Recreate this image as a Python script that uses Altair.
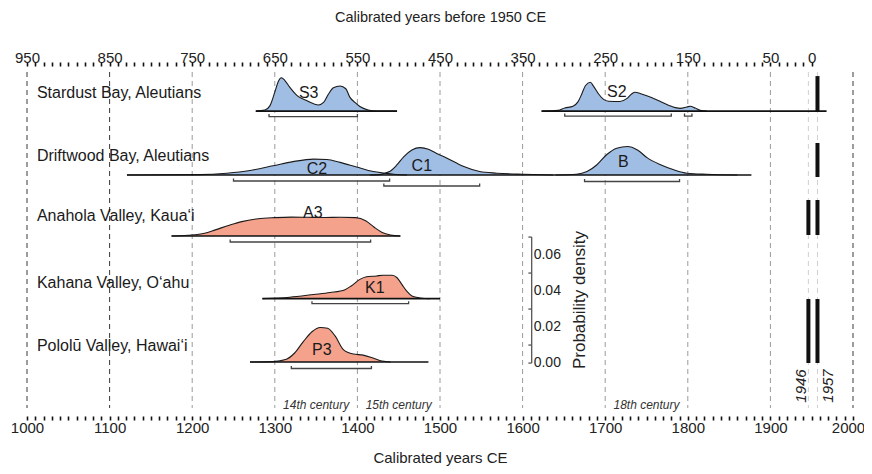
import altair as alt
import pandas as pd

FONT = "Liberation Sans, Arial, Helvetica, sans-serif"
PX = 1.0 / 1800.0          # density units per vertical screen pixel
Y_MAX = 350 * PX

# ---------------- data ----------------
site_names = ["Stardust Bay, Aleutians", "Driftwood Bay, Aleutians",
              "Anahola Valley, Kaua\u2018i", "Kahana Valley, O\u2018ahu",
              "Polol\u016b Valley, Hawai\u2018i"]
site_base = [0.1694, 0.1339, 0.1000, 0.0652, 0.0300]
site_label_year = 1012
site_label_rise_px = [18, 19, 20, 16, 16]

# baseline segments of each row
seg_site = [0, 0, 1, 2, 3, 4]
seg_start = [1277, 1623, 1121, 1175, 1285, 1270]
seg_end = [1448, 1968, 1877, 1452, 1500, 1486]

# probability density curves
S3_years = [1277, 1288, 1294, 1300, 1304, 1308, 1312, 1318, 1327, 1339, 1353,
            1359, 1365, 1371, 1379, 1386, 1391, 1397, 1403, 1413, 1423, 1448]
S3_dens = [0, 0.0006, 0.0029, 0.0105, 0.0162, 0.0185, 0.0171, 0.0133, 0.0086, 0.0057, 0.0034,
           0.0048, 0.0095, 0.0130, 0.0139, 0.0124, 0.0076, 0.0048, 0.0025, 0.0006, 0, 0]

S2_years = [1623, 1643, 1651, 1661, 1667, 1672, 1676, 1682, 1686, 1692, 1698, 1704, 1718, 1726,
            1732, 1736, 1744, 1756, 1768, 1778, 1785, 1791, 1799, 1803, 1809, 1815, 1823]
S2_dens = [0, 0.0004, 0.0017, 0.0027, 0.0051, 0.0099, 0.0141, 0.0160, 0.0137, 0.0095, 0.0065,
           0.0055, 0.0053, 0.0069, 0.0095, 0.0105, 0.0095, 0.0076, 0.0051, 0.0030, 0.0019,
           0.0015, 0.0023, 0.0027, 0.0017, 0.0004, 0]

C2_years = [1121, 1209, 1242, 1270, 1298, 1322, 1347, 1363, 1379, 1399, 1419, 1433, 1444, 1460]
C2_dens = [0, 0.0002, 0.0010, 0.0025, 0.0051, 0.0074, 0.0088, 0.0086, 0.0070, 0.0044,
           0.0019, 0.0010, 0.0004, 0]

C1_years = [1415, 1427, 1433, 1439, 1448, 1456, 1466, 1476, 1486, 1496, 1508, 1528, 1548,
            1569, 1601, 1637]
C1_dens = [0, 0.0002, 0.0010, 0.0019, 0.0057, 0.0101, 0.0139, 0.0152, 0.0143, 0.0120,
           0.0095, 0.0048, 0.0019, 0.0010, 0.0004, 0]

B_years = [1640, 1665, 1678, 1690, 1702, 1714, 1727, 1739, 1751, 1767, 1783, 1799, 1823, 1860]
B_dens = [0, 0.0004, 0.0019, 0.0057, 0.0114, 0.0149, 0.0158, 0.0139, 0.0095, 0.0057,
          0.0029, 0.0010, 0.0004, 0]

A3_years = [1175, 1195, 1215, 1228, 1245, 1260, 1280, 1300, 1320, 1340, 1360, 1380, 1398,
            1410, 1420, 1430, 1440, 1452]
A3_dens = [0, 0.0004, 0.0015, 0.0034, 0.0060, 0.0080, 0.0096, 0.0102, 0.0105, 0.0104,
           0.0103, 0.0104, 0.0102, 0.0085, 0.0050, 0.0020, 0.0006, 0]

K1_years = [1285, 1318, 1347, 1367, 1385, 1393, 1403, 1411, 1423, 1431, 1442, 1448, 1454,
            1460, 1466, 1476, 1488]
K1_dens = [0, 0.0008, 0.0023, 0.0034, 0.0050, 0.0072, 0.0107, 0.0122, 0.0126, 0.0130,
           0.0130, 0.0116, 0.0078, 0.0040, 0.0015, 0.0004, 0]

P3_years = [1270, 1298, 1314, 1324, 1335, 1345, 1355, 1364, 1373, 1383, 1395, 1407, 1417,
            1427, 1440]
P3_dens = [0, 0.0002, 0.0015, 0.0050, 0.0116, 0.0168, 0.0192, 0.0187, 0.0145, 0.0069,
           0.0044, 0.0038, 0.0025, 0.0008, 0]

curve_names = ["S3", "S2", "C2", "C1", "B", "A3", "K1", "P3"]
curve_site = [0, 0, 1, 1, 1, 2, 3, 4]
curve_region = ["Aleutians", "Aleutians", "Aleutians", "Aleutians", "Aleutians",
                "Hawaii", "Hawaii", "Hawaii"]
curve_years = [S3_years, S2_years, C2_years, C1_years, B_years, A3_years, K1_years, P3_years]
curve_dens = [S3_dens, S2_dens, C2_dens, C1_dens, B_dens, A3_dens, K1_dens, P3_dens]
curve_label_year = [1341, 1714, 1351, 1478, 1722, 1346, 1421, 1357]
curve_label_rise_px = [18, 19, 6, 9, 13, 23, 11, 12]

region_fill = {"Aleutians": "#a0bde3", "Hawaii": "#f4a28c"}

# age-range brackets
br_site = [0, 0, 0, 1, 1, 1, 2, 3, 4]
br_start = [1293, 1651, 1796, 1250, 1432, 1675, 1246, 1345, 1320]
br_end = [1400, 1780, 1805, 1439, 1548, 1790, 1416, 1462, 1417]
br_drop_px = [5.5, 5, 5, 6, 11, 6.5, 6, 5, 6.5]

# historical tsunami bars (1946, 1957)
ev_site = [0, 1, 2, 2, 4, 4]
ev_year = [1957, 1957, 1946, 1957, 1946, 1957]
ev_low_px = [0, -2, 1, 1, -1, -1]
ev_high_px = [35, 32, 36, 36, 63, 63]
ev_label_text = ["1946", "1957"]
ev_label_year = [1937, 1970]

# reference grid lines
grid_years = [1000, 1100, 1200, 1300, 1400, 1500, 1600, 1700, 1800, 1900, 2000, 1946, 1957]
grid_kind = ["dark", "dark", "mid", "mid", "mid", "mid", "mid", "mid", "mid", "mid", "dark",
             "light", "light"]
grid_color = {"dark": "#3a3a3a", "mid": "#9a9a9a", "light": "#d0d0d0"}

century_text = ["14th century", "15th century", "18th century"]
century_year = [1350, 1450, 1750]

# probability density scale bar
scale_year = 1611
scale_base = 0.0294
scale_minor = [0.01, 0.03, 0.05, 0.07]
scale_major = [0.00, 0.02, 0.04, 0.06]

# ---------------- tables ----------------
rows = []
for n, s, r, ys_, ds in zip(curve_names, curve_site, curve_region, curve_years, curve_dens):
    for y, d in zip(ys_, ds):
        rows.append({"curve": n, "year": y, "top": site_base[s] + d, "base": site_base[s],
                     "fill": region_fill[r]})
curves_df = pd.DataFrame(rows)

seg_df = pd.DataFrame({"start": seg_start, "end": seg_end,
                       "y": [site_base[s] for s in seg_site]})

br_rows = []
for i, (s, a, b, dp) in enumerate(zip(br_site, br_start, br_end, br_drop_px)):
    yb = site_base[s] - dp * PX
    yt = yb + 2.5 * PX
    for k, (xx, yy) in enumerate([(a, yt), (a, yb), (b, yb), (b, yt)]):
        br_rows.append({"bid": i, "x": xx, "y": yy, "ord": k})
br_df = pd.DataFrame(br_rows)

ev_df = pd.DataFrame({"year": ev_year,
                      "low": [site_base[s] + l * PX for s, l in zip(ev_site, ev_low_px)],
                      "high": [site_base[s] + h * PX for s, h in zip(ev_site, ev_high_px)]})

grid_df = pd.DataFrame({"year": grid_years, "color": [grid_color[k] for k in grid_kind]})

site_lab_df = pd.DataFrame({"text": site_names, "x": site_label_year,
                            "y": [b + r * PX for b, r in zip(site_base, site_label_rise_px)]})
curve_lab_df = pd.DataFrame({"text": curve_names, "x": curve_label_year,
                             "y": [site_base[s] + r * PX for s, r in
                                   zip(curve_site, curve_label_rise_px)]})
cent_df = pd.DataFrame({"text": century_text, "x": century_year, "y": 11 * PX})
evlab_df = pd.DataFrame({"text": ev_label_text, "x": ev_label_year, "y": 30 * PX})

scale_line_df = pd.DataFrame({"x": [scale_year], "y": [scale_base],
                              "y2": [scale_base + max(scale_minor)]})
scale_tick_df = pd.DataFrame({"x": scale_year - 4, "x2": scale_year,
                              "y": [scale_base + v for v in [0.0] + scale_minor]})
scale_lab_df = pd.DataFrame({"text": ["%.2f" % v for v in scale_major], "x": scale_year,
                             "y": [scale_base + v for v in scale_major]})
scale_title_df = pd.DataFrame({"text": ["Probability density"], "x": [1669],
                               "y": [scale_base + 0.035]})

# ---------------- scales / axes ----------------
xs = alt.Scale(domain=[1000, 2000], nice=False, zero=False)
ys = alt.Scale(domain=[0, Y_MAX], nice=False, zero=False)

bottom_axis = alt.Axis(
    orient="bottom", values=list(range(1000, 2001, 10)), format="d",
    labelExpr="datum.value % 100 == 0 ? datum.label : ''",
    labelOffset={"condition": {"test": "datum.value == 2000", "value": -5}, "value": 0},
    domain=False, grid=False, ticks=True, tickSize=4, tickWidth=1.6, tickColor="#111",
    labelFont=FONT, labelFontSize=15, labelColor="#222", labelPadding=0,
    labelFlush=False, labelOverlap=False,
    title="Calibrated years CE", titleFont=FONT, titleFontSize=15,
    titleFontWeight="normal", titleColor="#222", titlePadding=15)

top_axis = alt.Axis(
    orient="top", values=list(range(1000, 1951, 10)), format="d",
    labelExpr="(datum.value % 100 == 0 || datum.value == 1950) ? '' + (1950 - datum.value) : ''",
    domain=False, grid=False, ticks=True, tickSize=4, tickWidth=1.6, tickColor="#111",
    labelFont=FONT, labelFontSize=15, labelColor="#222", labelPadding=-3,
    labelFlush=False, labelOverlap=False,
    title="Calibrated years before 1950 CE", titleFont=FONT, titleFontSize=14.5,
    titleFontWeight="normal", titleColor="#222", titlePadding=26)

X = lambda f: alt.X(f, scale=xs, axis=None)
Y = lambda f: alt.Y(f, scale=ys, axis=None)

grid = alt.Chart(grid_df).mark_rule(strokeDash=[5, 4], strokeWidth=1).encode(
    x=alt.X("year:Q", scale=xs, axis=top_axis),
    y=alt.value(6), y2=alt.value(342),
    color=alt.Color("color:N", scale=None))

areas = alt.Chart(curves_df).mark_area(interpolate="monotone", opacity=1).encode(
    x=alt.X("year:Q", scale=xs, axis=bottom_axis),
    y=Y("top:Q"), y2="base:Q",
    fill=alt.Fill("fill:N", scale=None), detail="curve:N")

outlines = alt.Chart(curves_df).mark_line(interpolate="monotone", color="#1a1a1a",
                                          strokeWidth=1.1).encode(
    x=X("year:Q"), y=Y("top:Q"), detail="curve:N")

baselines = alt.Chart(seg_df).mark_rule(color="#111", strokeWidth=1.6).encode(
    x=X("start:Q"), x2="end:Q", y=Y("y:Q"))

brackets = alt.Chart(br_df).mark_line(color="#444", strokeWidth=1.3).encode(
    x=X("x:Q"), y=Y("y:Q"), detail="bid:N", order="ord:Q")

events = alt.Chart(ev_df).mark_rule(color="#111", strokeWidth=4).encode(
    x=X("year:Q"), y=Y("low:Q"), y2="high:Q")

site_labels = alt.Chart(site_lab_df).mark_text(
    align="left", baseline="middle", font=FONT, fontSize=16, color="#1a1a1a").encode(
    x=X("x:Q"), y=Y("y:Q"), text="text:N")

curve_labels = alt.Chart(curve_lab_df).mark_text(
    align="center", baseline="middle", font=FONT, fontSize=16, color="#1a1a1a").encode(
    x=X("x:Q"), y=Y("y:Q"), text="text:N")

century_labels = alt.Chart(cent_df).mark_text(
    align="center", baseline="middle", font=FONT, fontSize=12, fontStyle="italic",
    color="#333").encode(x=X("x:Q"), y=Y("y:Q"), text="text:N")

event_labels = alt.Chart(evlab_df).mark_text(
    align="center", baseline="middle", font=FONT, fontSize=15, fontStyle="italic",
    angle=270, color="#222").encode(x=X("x:Q"), y=Y("y:Q"), text="text:N")

scale_line = alt.Chart(scale_line_df).mark_rule(color="#555", strokeWidth=1.3).encode(
    x=X("x:Q"), y=Y("y:Q"), y2="y2:Q")
scale_ticks = alt.Chart(scale_tick_df).mark_rule(color="#555", strokeWidth=1.3).encode(
    x=X("x:Q"), x2="x2:Q", y=Y("y:Q"))
scale_labels = alt.Chart(scale_lab_df).mark_text(
    align="left", baseline="middle", dx=2, font=FONT, fontSize=14, color="#222").encode(
    x=X("x:Q"), y=Y("y:Q"), text="text:N")
scale_title = alt.Chart(scale_title_df).mark_text(
    align="center", baseline="middle", font=FONT, fontSize=17, angle=270,
    color="#222").encode(x=X("x:Q"), y=Y("y:Q"), text="text:N")

chart = alt.layer(
    grid, areas, outlines, baselines, brackets, events,
    site_labels, curve_labels, century_labels, event_labels,
    scale_line, scale_ticks, scale_labels, scale_title
).resolve_axis(x="independent").properties(
    width=826, height=350,
    padding={"left": 19, "top": 58, "right": 11, "bottom": 50},
    autosize=alt.AutoSizeParams(type="none"),
).configure_view(stroke=None)

chart.save("out.html", embed_options={"renderer": "svg", "actions": False})
